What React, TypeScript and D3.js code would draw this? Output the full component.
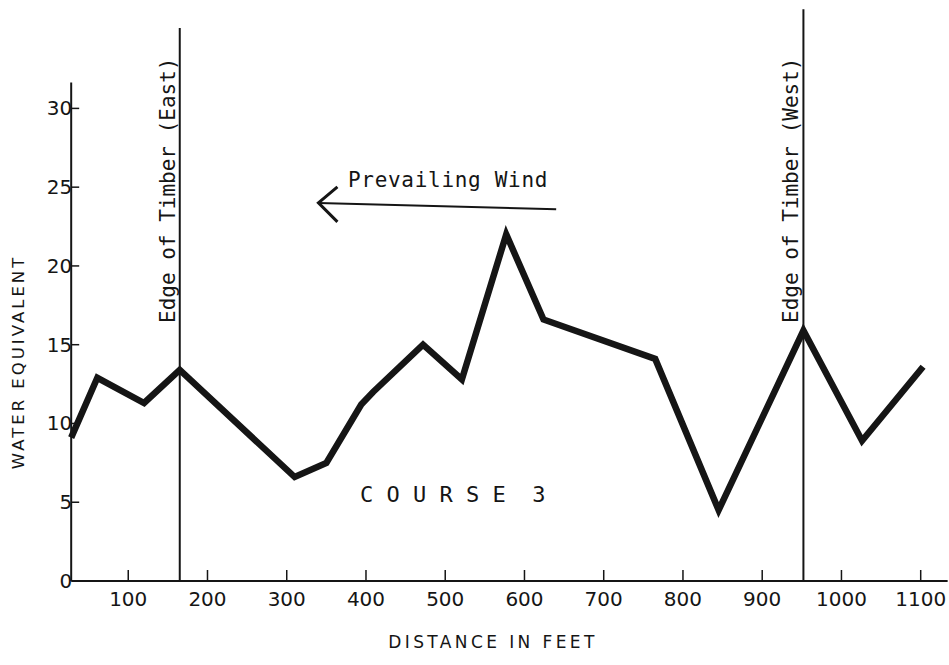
import * as d3 from "d3";

// water equivalent along course 3
const distance = [28, 61, 120, 165, 310, 350, 394, 409, 472, 521, 577, 624, 765, 845, 952, 1026, 1103];
const water = [9.1, 12.9, 11.3, 13.4, 6.6, 7.5, 11.2, 12.0, 15.0, 12.8, 22.0, 16.6, 14.1, 4.5, 15.9, 8.9, 13.6];

const xTicks = [100, 200, 300, 400, 500, 600, 700, 800, 900, 1000, 1100];
const yTicks = [0, 5, 10, 15, 20, 25, 30];

const edgeAt = [165, 952];
const edgeTop = [35.1, 36.3];
const edgeLabels = ["Edge of Timber (East)", "Edge of Timber (West)"];

// wind arrow: from / to in data units
const windFrom = [640, 23.6];
const windTo = [340, 24.0];

const W = 949;
const H = 665;

const mono = "'DejaVu Sans Mono', monospace";
const sans = "'DejaVu Sans', sans-serif";
const ink = "#151515";

export default function App() {
  const x = d3.scaleLinear().domain([0, 1100]).range([49, 920.7]);
  const y = d3.scaleLinear().domain([0, 30]).range([581, 108.4]);

  const line = d3
    .line<number>()
    .x((d, i) => x(distance[i]))
    .y((d) => y(d))
    .curve(d3.curveLinear);

  const x0 = x(28);
  const xEnd = x(1134);
  const yTop = y(31.65);

  const ax = x(windTo[0]);
  const ay = y(windTo[1]);

  return (
    <svg
      width={W}
      height={H}
      style={{ position: "absolute", left: 0, top: 0, background: "#fff", display: "block" }}
    >
      <rect width={W} height={H} fill="#fff" />

      {/* axes */}
      <line x1={x0} x2={x0} y1={yTop} y2={y(0)} stroke={ink} strokeWidth={2} />
      <line x1={x0} x2={xEnd} y1={y(0)} y2={y(0)} stroke={ink} strokeWidth={2.2} />

      {yTicks.map((t) => (
        <g key={"y" + t}>
          {t > 0 && <line x1={x0} x2={x0 + 8} y1={y(t)} y2={y(t)} stroke={ink} strokeWidth={1.5} />}
          <text
            x={x0 + 1}
            y={y(t) + 7}
            textAnchor="end"
            fontFamily={sans}
            fontSize={20}
            fill={ink}
          >
            {t}
          </text>
        </g>
      ))}

      {xTicks.map((t) => (
        <g key={"x" + t}>
          <line x1={x(t)} x2={x(t)} y1={y(0)} y2={y(0) - 11} stroke={ink} strokeWidth={1.5} />
          <text
            x={x(t)}
            y={y(0) + 25}
            textAnchor="middle"
            fontFamily={sans}
            fontSize={20}
            fill={ink}
          >
            {t}
          </text>
        </g>
      ))}

      {/* axis titles */}
      <text
        x={493}
        y={648}
        textAnchor="middle"
        fontFamily={sans}
        fontSize={17}
        letterSpacing={3.4}
        fill={ink}
      >
        DISTANCE IN FEET
      </text>
      <text
        transform={`translate(24, 362) rotate(-90)`}
        textAnchor="middle"
        fontFamily={sans}
        fontSize={16.5}
        letterSpacing={3}
        fill={ink}
      >
        WATER EQUIVALENT
      </text>

      {/* edge of timber lines */}
      {edgeAt.map((d, i) => (
        <g key={"e" + i}>
          <line x1={x(d)} x2={x(d)} y1={y(edgeTop[i])} y2={y(0)} stroke={ink} strokeWidth={2} />
          <text
            transform={`translate(${x(d) - 5}, 323) rotate(-90)`}
            fontFamily={mono}
            fontSize={21}
            fill={ink}
          >
            {edgeLabels[i]}
          </text>
        </g>
      ))}

      {/* prevailing wind */}
      <text x={348} y={187} fontFamily={mono} fontSize={21} letterSpacing={0.7} fill={ink}>
        Prevailing Wind
      </text>
      <line
        x1={x(windFrom[0])}
        y1={y(windFrom[1])}
        x2={ax}
        y2={ay}
        stroke={ink}
        strokeWidth={2}
      />
      <path
        d={`M${ax + 19},${ay - 16} L${ax},${ay} L${ax + 19},${ay + 19}`}
        fill="none"
        stroke={ink}
        strokeWidth={3}
        strokeLinejoin="miter"
      />

      {/* series */}
      <path
        d={line(water) ?? ""}
        fill="none"
        stroke={ink}
        strokeWidth={6.5}
        strokeLinejoin="miter"
        strokeMiterlimit={3}
      />

      <text
        x={360}
        y={502}
        fontFamily={mono}
        fontSize={22}
        fill={ink}
        style={{ whiteSpace: "pre" }}
      >
        {"C O U R S E  3"}
      </text>
    </svg>
  );
}
